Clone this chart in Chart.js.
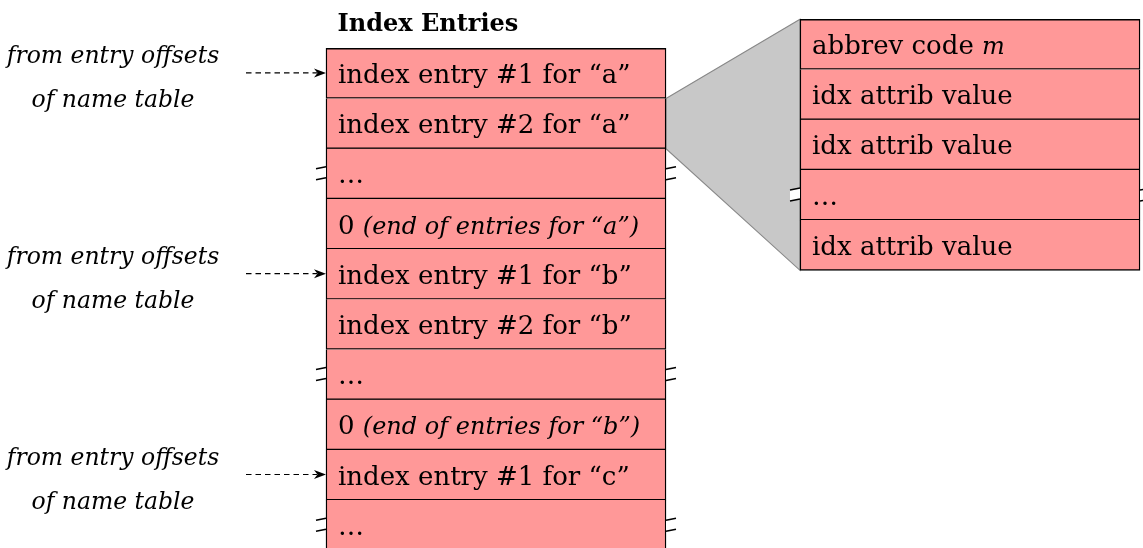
<!DOCTYPE html>
<html>
<head>
<meta charset="utf-8">
<script src="https://cdn.jsdelivr.net/npm/chart.js@4.4.1/dist/chart.umd.min.js"></script>
<style>
    html, body { margin: 0; padding: 0; background: #fff; }
    #wrap { width: 1143px; height: 548px; position: relative; }
</style>
</head>
<body>
<div id="wrap"><canvas id="diagram"></canvas></div>
<script>
// cell texts, *...* = italic
const entryLabels = [
    'index entry #1 for “a”',
    'index entry #2 for “a”',
    '…',
    '0 *(end of entries for “a”)*',
    'index entry #1 for “b”',
    'index entry #2 for “b”',
    '…',
    '0 *(end of entries for “b”)*',
    'index entry #1 for “c”',
    '…'
];
const detailLabels = ['abbrev code *m*', 'idx attrib value', 'idx attrib value', '…', 'idx attrib value'];
const pointerRows = [0, 4, 8];
const pointerText = ['from entry offsets', 'of name table'];
const titleText = 'Index Entries';
const zoomedEntry = 1;

// layout
const W = 1143, H = 548;
const ROW = 50.2;
const ENTRY_TOP = 48.3, DETAIL_TOP = 19.3;
const DETAIL_SHIFT = (DETAIL_TOP - ENTRY_TOP) / ROW;
const ENTRY_X = [326, 666], DETAIL_X = [800, 1140];
const PINK = '#ff9898';
const SERIF = '"DejaVu Serif", "Liberation Serif", serif';
const FS_UP = 26, FS_IT = 24;

function isGap(t) { return t === '…'; }

function drawRich(ctx, text, x, y) {
    const parts = text.split('*');
    for (let i = 0; i < parts.length; i++) {
        if (!parts[i]) continue;
        ctx.font = i % 2 ? 'italic ' + FS_IT + 'px ' + SERIF : FS_UP + 'px ' + SERIF;
        ctx.fillText(parts[i], x, y);
        x += ctx.measureText(parts[i]).width;
    }
}

function breakMark(ctx, edge, dir, cy) {
    // little white "cut" sticking out of a column edge
    const len = 10, half = 5.5, slope = 0.2;
    const xa = edge, xb = edge + dir * len;
    const x0 = Math.min(xa, xb);
    const ya = cy - (xa - x0) * slope;
    const yb = cy - (xb - x0) * slope;
    ctx.save();
    ctx.fillStyle = '#fff';
    ctx.beginPath();
    ctx.moveTo(xa, ya - half);
    ctx.lineTo(xb, yb - half);
    ctx.lineTo(xb, yb + half);
    ctx.lineTo(xa, ya + half);
    ctx.closePath();
    ctx.fill();
    ctx.strokeStyle = '#000';
    ctx.lineWidth = 1.5;
    ctx.beginPath();
    ctx.moveTo(xa, ya - half); ctx.lineTo(xb, yb - half);
    ctx.moveTo(xa, ya + half); ctx.lineTo(xb, yb + half);
    ctx.stroke();
    ctx.restore();
}

const diagramPlugin = {
    id: 'diagram',
    beforeDatasetsDraw(chart) {
        const ctx = chart.ctx;
        const x = chart.scales.x, y = chart.scales.y;
        // grey zoom funnel
        ctx.save();
        ctx.fillStyle = '#c8c8c8';
        ctx.strokeStyle = '#888';
        ctx.lineWidth = 1.1;
        ctx.beginPath();
        ctx.moveTo(x.getPixelForValue(ENTRY_X[1]), y.getPixelForValue(zoomedEntry - 0.5));
        ctx.lineTo(x.getPixelForValue(DETAIL_X[0]), y.getPixelForValue(DETAIL_SHIFT - 0.5));
        ctx.lineTo(x.getPixelForValue(DETAIL_X[0]), y.getPixelForValue(DETAIL_SHIFT + detailLabels.length - 0.5));
        ctx.lineTo(x.getPixelForValue(ENTRY_X[1]), y.getPixelForValue(zoomedEntry + 0.5));
        ctx.closePath();
        ctx.fill();
        ctx.stroke();
        ctx.restore();
    },
    afterDatasetsDraw(chart) {
        const ctx = chart.ctx;
        const x = chart.scales.x, y = chart.scales.y;
        ctx.save();
        ctx.fillStyle = '#000';
        ctx.textBaseline = 'alphabetic';
        ctx.textAlign = 'left';

        const cols = [
            {labels: entryLabels, shift: 0, xs: ENTRY_X},
            {labels: detailLabels, shift: DETAIL_SHIFT, xs: DETAIL_X}
        ];
        cols.forEach(col => {
            col.labels.forEach((t, i) => {
                const cy = y.getPixelForValue(i + col.shift);
                const left = x.getPixelForValue(col.xs[0]);
                const right = x.getPixelForValue(col.xs[1]);
                drawRich(ctx, t, left + 12, cy + 9.5);
                if (isGap(t)) {
                    breakMark(ctx, left, -1, cy + 0.5);
                    breakMark(ctx, right, 1, cy + 0.5);
                }
            });
        });

        // title
        ctx.font = 'bold 24px ' + SERIF;
        ctx.textAlign = 'center';
        ctx.fillText(titleText, x.getPixelForValue(428), y.getPixelForValue(-0.5) - 17);

        // pointers from the name table
        pointerRows.forEach(r => {
            const cy = y.getPixelForValue(r);
            ctx.font = 'italic 23.5px ' + SERIF;
            ctx.textAlign = 'center';
            ctx.fillText(pointerText[0], x.getPixelForValue(113), cy - 10);
            ctx.fillText(pointerText[1], x.getPixelForValue(113), cy + 34);

            const tip = x.getPixelForValue(ENTRY_X[0]);
            ctx.strokeStyle = '#000';
            ctx.lineWidth = 1.2;
            ctx.setLineDash([5.5, 4]);
            ctx.beginPath();
            ctx.moveTo(x.getPixelForValue(246), cy - 0.5);
            ctx.lineTo(tip - 9, cy - 0.5);
            ctx.stroke();
            ctx.setLineDash([]);
            ctx.beginPath();
            ctx.moveTo(tip, cy - 0.5);
            ctx.lineTo(tip - 12, cy - 5);
            ctx.lineTo(tip - 8.5, cy - 0.5);
            ctx.lineTo(tip - 12, cy + 4);
            ctx.closePath();
            ctx.fill();
        });
        ctx.restore();
    }
};

// one bar per cell, both columns in one dataset
const cells = entryLabels.map((t, i) => ({x: ENTRY_X, y: i, first: i === 0}))
    .concat(detailLabels.map((t, i) => ({x: DETAIL_X, y: i + DETAIL_SHIFT, first: i === 0})));

function cellBorder(ctx) {
    const c = cells[ctx.dataIndex];
    return {top: c && c.first ? 1.5 : 0, bottom: 1.5, left: 1.4, right: 1.4};
}

const yMin = -0.5 - ENTRY_TOP / ROW;

const chart = new Chart(document.getElementById('diagram').getContext('2d'), {
    type: 'bar',
    data: {
        datasets: [{
            label: 'Index Entries',
            data: cells,
            backgroundColor: PINK,
            borderColor: '#000',
            borderWidth: cellBorder,
            borderSkipped: false,
            barThickness: ROW
        }]
    },
    options: {
        indexAxis: 'y',
        responsive: true,
        maintainAspectRatio: false,
        animation: false,
        events: [],
        layout: { padding: 0 },
        scales: {
            x: { type: 'linear', min: 0, max: W, display: false, offset: false },
            y: { type: 'linear', min: yMin, max: yMin + H / ROW, reverse: true, display: false, offset: false }
        },
        plugins: {
            legend: { display: false },
            tooltip: { enabled: false }
        }
    },
    plugins: [diagramPlugin]
});
</script>
</body>
</html>
